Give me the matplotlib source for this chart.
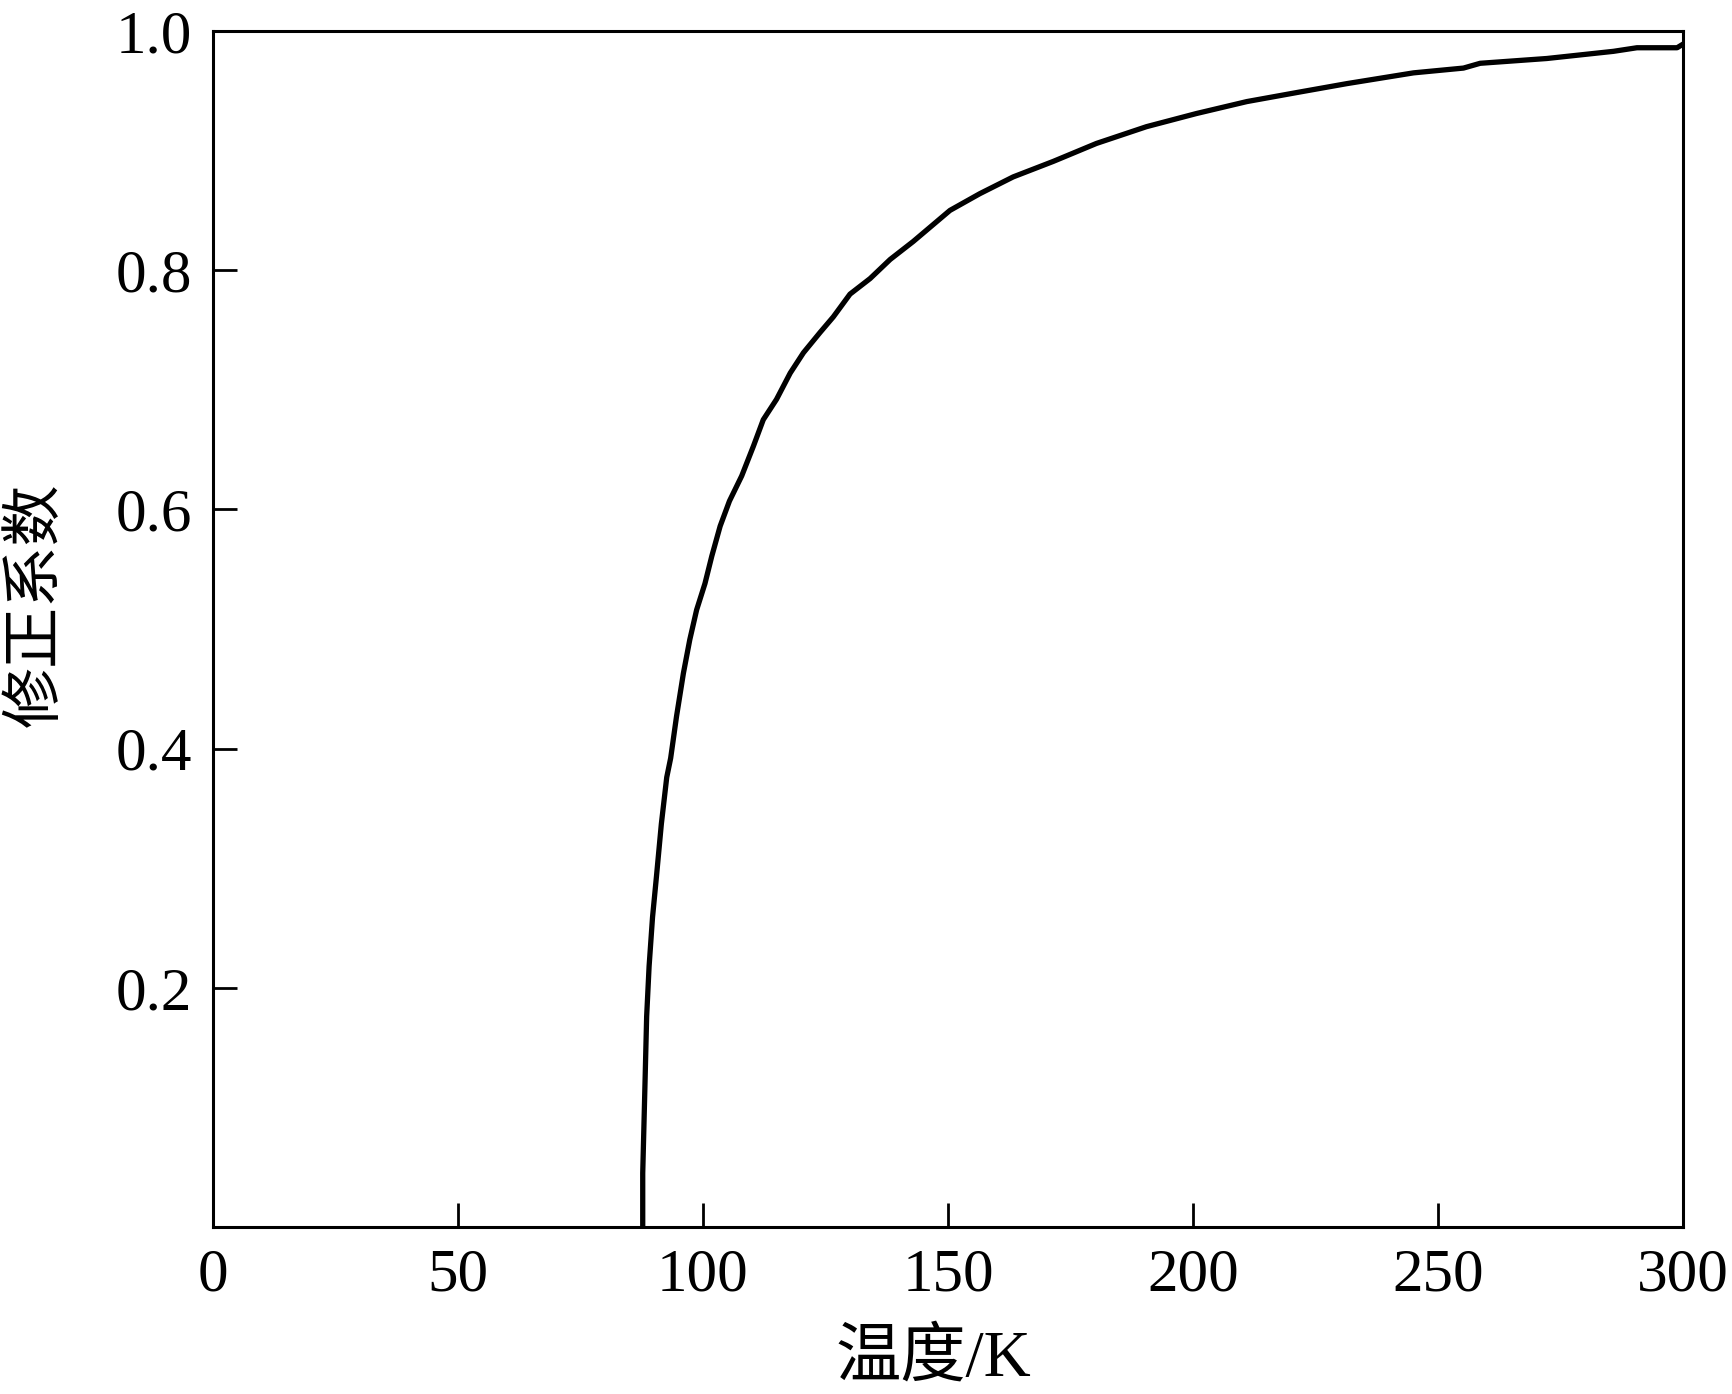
import matplotlib
matplotlib.use("Agg")
import matplotlib.pyplot as plt

temperature = [87.7, 87.7, 88.2, 88.5, 89.0, 89.7, 90.5, 91.5, 92.6, 93.4, 94.6, 96.0,
               97.3, 98.7, 100.4, 101.8, 103.5, 105.4, 107.9, 110.3, 112.3, 115.0,
               117.8, 120.5, 123.9, 126.6, 130.0, 134.1, 138.2, 142.9, 150.4, 156.5,
               163.3, 171.5, 180.3, 190.5, 200.7, 211.0, 221.8, 231.4, 245.0, 255.2,
               258.6, 272.2, 285.8, 290.6, 298.8, 300.0]
factor = [0.0, 0.045, 0.126, 0.176, 0.218, 0.259, 0.293, 0.337, 0.376, 0.392, 0.427, 0.463,
          0.491, 0.516, 0.538, 0.561, 0.586, 0.607, 0.628, 0.653, 0.675, 0.692,
          0.714, 0.731, 0.748, 0.761, 0.780, 0.793, 0.809, 0.824, 0.850, 0.864,
          0.878, 0.891, 0.906, 0.920, 0.931, 0.941, 0.949, 0.956, 0.965, 0.969,
          0.973, 0.977, 0.983, 0.986, 0.986, 0.989]
xticks = [0, 50, 100, 150, 200, 250, 300]
yticks = [0.2, 0.4, 0.6, 0.8, 1.0]
xlabel = "温度/K"
ylabel = "修正系数"

plt.rcParams['font.family'] = ['Liberation Serif', 'Noto Sans CJK SC']

fig = plt.figure(figsize=(17.32, 13.94), dpi=100)
ax = fig.add_axes([213/1732, 1 - 1227/1394, (1683-213)/1732, (1227-31)/1394])
ax.plot(temperature, factor, color='black', lw=3.8, solid_joinstyle='round')
ax.set_xlim(0, 300)
ax.set_ylim(0, 1.0)
ax.set_xticks(xticks)
ax.set_xticklabels([str(v) for v in xticks])
ax.set_yticks(yticks)
ax.set_yticklabels([f"{v:.1f}" for v in yticks])
ax.tick_params(direction='in', length=17, width=2.0, labelsize=44, pad=15)
for s in ax.spines.values():
    s.set_linewidth(2.2)
ax.set_xlabel(xlabel, fontsize=47)
ax.set_ylabel(ylabel, fontsize=44)
ax.xaxis.set_label_coords(0.49, -0.085)
ax.yaxis.set_label_coords(-0.10, 0.52)
fig.savefig("out.png", dpi=100)
